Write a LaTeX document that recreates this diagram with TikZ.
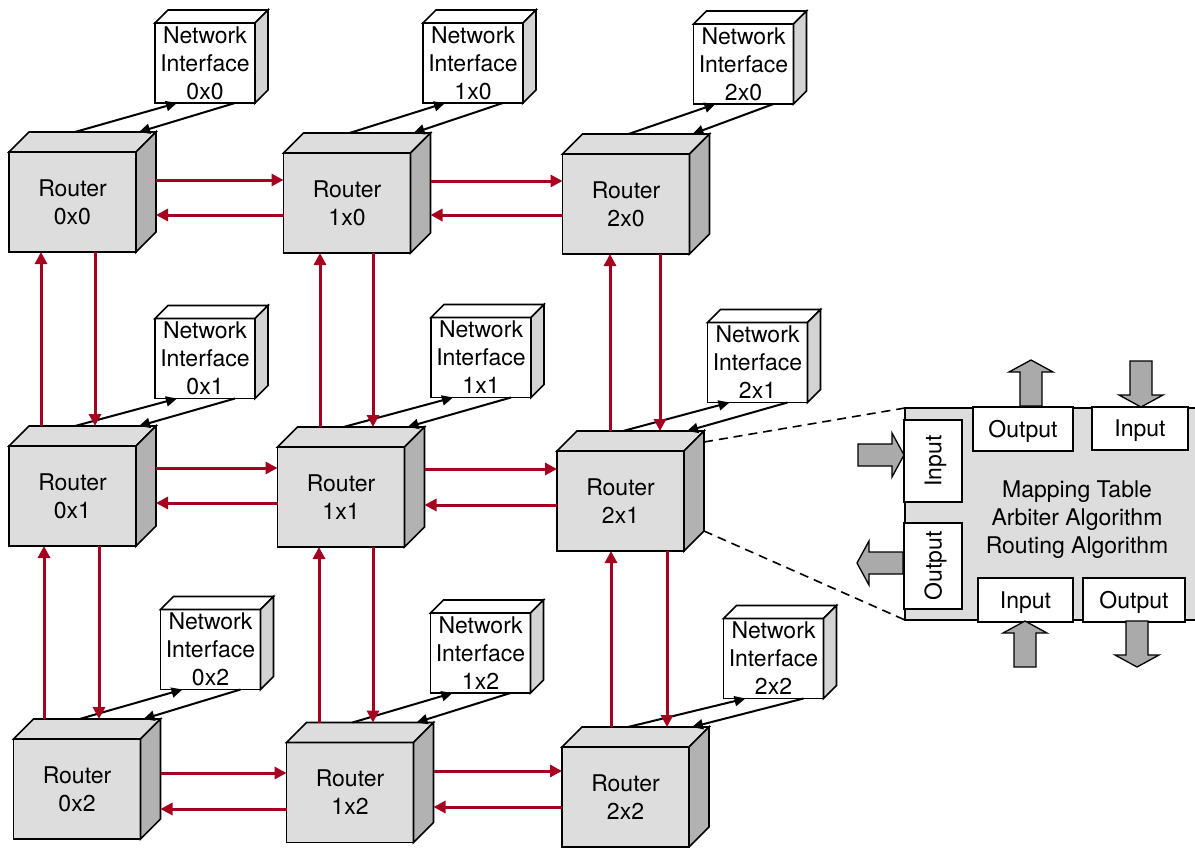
\documentclass[tikz,border=0pt]{standalone}
\usepackage{fontspec}
\setmainfont{TeX Gyre Heros}
\usetikzlibrary{arrows.meta,calc}
\definecolor{netred}{RGB}{166,0,33}
\definecolor{rfront}{RGB}{221,221,221}
\definecolor{rside}{RGB}{178,178,178}
\definecolor{nside}{RGB}{211,211,211}
\definecolor{panelfill}{RGB}{221,221,221}
\definecolor{bigarrow}{RGB}{170,170,170}
\tikzset{
 lbl/.style={font=\fontsize{23}{28}\selectfont, align=center},
 edge/.style={draw=black, line width=1.6pt, line join=miter},
 routerbox/.style={edge, fill=rfront, lbl, minimum width=127pt, minimum height=100pt, inner sep=0pt, outer sep=0pt},
 nibox/.style={edge, fill=white, lbl, minimum width=100pt, minimum height=80pt, inner sep=0pt, outer sep=0pt},
 rarr/.style={draw=netred, line width=3pt, -{Triangle[length=12pt,width=12pt]}},
 barr/.style={draw=black, line width=2pt, -{Triangle[length=11pt,width=10pt]}},
 pbox/.style={edge, fill=white, lbl, inner sep=0pt, outer sep=0pt, text depth=0pt},
 garr/.style={draw=black, line width=1.3pt, fill=bigarrow, line join=miter},
 zoomline/.style={draw=black, line width=1.6pt, dash pattern=on 9pt off 6pt},
}
\newcommand\mkrouter[3]{%
 \node[routerbox] (#1) at (#2) {Router\\#3};
 \draw[edge,fill=rfront] (#1.north west) -- ++(20,-20) -- ++(127,0) -- (#1.north east) -- cycle;
 \draw[edge,fill=rside] (#1.north east) -- ++(20,-20) -- ++(0,100) -- (#1.south east) -- cycle;
}
\newcommand\mknetif[3]{%
 \node[nibox] (#1) at (#2) {Network\\Interface\\#3};
 \draw[edge,fill=white] (#1.north west) -- ++(13,-13) -- ++(100,0) -- (#1.north east) -- cycle;
 \draw[edge,fill=nside] (#1.north east) -- ++(13,-13) -- ++(0,80) -- (#1.south east) -- cycle;
}
\newcommand\hpair[4]{%
 \path (#1.east |- 0,#3) ++(20,0) coordinate (ha);
 \path (#1.east |- 0,#4) ++(20,0) coordinate (hb);
 \draw[rarr] (ha) -- (#2.west |- ha);
 \draw[rarr] (#2.west |- hb) -- (hb);
}
\newcommand\vpair[4]{%
 \path ($(#2.north)+(0,-20)$) coordinate (lt);
 \draw[rarr] (#3,0 |- lt) -- (#3,0 |- #1.south);
 \draw[rarr] (#4,0 |- #1.south) -- (#4,0 |- lt);
}
\newcommand\nilink[2]{%
 \path ($(#1.north west)+(66,-20)$) coordinate (a1);
 \path ($(#1.north west)+(130,-20)$) coordinate (a2);
 \path ($(#2.south west)+(22,0)$) coordinate (b1);
 \path ($(#2.south west)+(80,0)$) coordinate (b2);
 \draw[barr] (a1) -- (b1);
 \draw[barr] (b2) -- (a2);
}
\newcommand\bigarr[3]{%
 \draw[garr,shift={(#1,#2)},rotate=#3] (0,0) -- (-12,22) -- (-12,11) -- (-46,11) -- (-46,-11) -- (-12,-11) -- (-12,-22) -- cycle;
}
\begin{document}
\begin{tikzpicture}[x=1pt,y=-1pt]
\useasboundingbox (0,0) rectangle (1195,847);
% routers
\mkrouter{r00}{72.5,202}{0x0}
\mkrouter{r10}{347,203}{1x0}
\mkrouter{r20}{626,204}{2x0}
\mkrouter{r01}{72.5,496}{0x1}
\mkrouter{r11}{341,497}{1x1}
\mkrouter{r21}{620.5,501}{2x1}
\mkrouter{r02}{77,789}{0x2}
\mkrouter{r12}{350,792.5}{1x2}
\mkrouter{r22}{625.5,797}{2x2}
% network interfaces
\mknetif{n00}{205,63}{0x0}
\mknetif{n10}{473,63}{1x0}
\mknetif{n20}{743.5,64}{2x0}
\mknetif{n01}{205,358.5}{0x1}
\mknetif{n11}{481,357.5}{1x1}
\mknetif{n21}{757.5,362.5}{2x1}
\mknetif{n02}{210.5,649.5}{0x2}
\mknetif{n12}{480.5,653}{1x2}
\mknetif{n22}{773.5,658.5}{2x2}
% router-NI links
\nilink{r00}{n00}
\nilink{r10}{n10}
\nilink{r20}{n20}
\nilink{r01}{n01}
\nilink{r11}{n11}
\nilink{r21}{n21}
\nilink{r02}{n02}
\nilink{r12}{n12}
\nilink{r22}{n22}
% horizontal links
\hpair{r00}{r10}{180}{215}
\hpair{r10}{r20}{181}{215}
\hpair{r01}{r11}{468}{503}
\hpair{r11}{r21}{469}{505}
\hpair{r02}{r12}{773}{809}
\hpair{r12}{r22}{771}{807}
% vertical links
\vpair{r00}{r01}{41}{95}
\vpair{r10}{r11}{320}{373}
\vpair{r20}{r21}{610}{660}
\vpair{r01}{r02}{44}{99}
\vpair{r11}{r12}{319}{373}
\vpair{r21}{r22}{611}{667}
% detail panel
\node[edge, fill=panelfill, minimum width=292pt, minimum height=212pt, inner sep=0pt, outer sep=0pt] (panel) at (1051,514) {};
\draw[zoomline] ($(r21.north east)+(20,-9)$) -- (panel.north west);
\draw[zoomline] ($(r21.south east)+(20,-20)$) -- (panel.south west);
\node[pbox, minimum width=82pt, minimum height=58pt, rotate=90] (inl) at (933,461) {Input};
\node[pbox, minimum width=86pt, minimum height=58pt, rotate=90] (outl) at (933,566) {Output};
\node[pbox, minimum width=100pt, minimum height=44pt] (outt) at (1023,429) {Output};
\node[pbox, minimum width=96pt, minimum height=43pt] (int) at (1140,428.5) {Input};
\node[pbox, minimum width=95pt, minimum height=44pt] (inb) at (1025.5,600) {Input};
\node[pbox, minimum width=102pt, minimum height=44pt] (outb) at (1134,600) {Output};
\node[lbl] (ptext) at (1077,520) {Mapping Table\\Arbiter Algorithm\\Routing Algorithm};
% big arrows
\bigarr{1031}{360}{90}
\bigarr{1141}{407}{-90}
\bigarr{904}{455}{0}
\bigarr{857}{563}{180}
\bigarr{1025}{621}{90}
\bigarr{1137}{667}{-90}
\end{tikzpicture}
\end{document}
